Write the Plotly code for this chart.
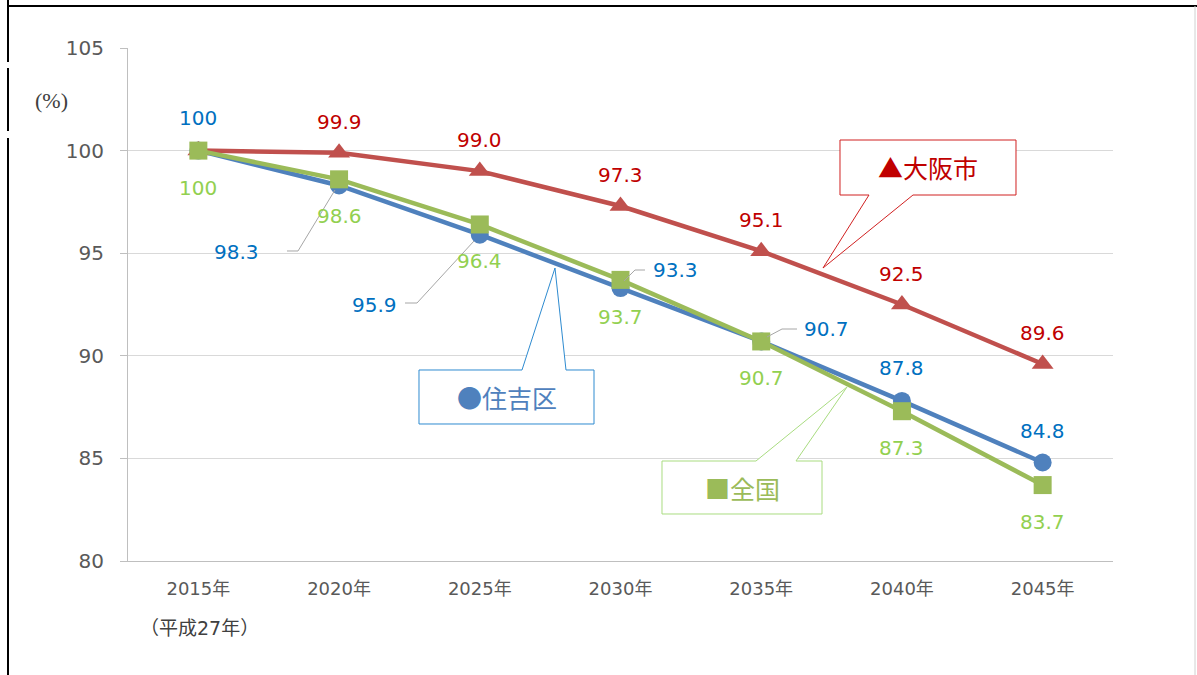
import plotly.graph_objects as go

# data
years = ["2015年", "2020年", "2025年", "2030年", "2035年", "2040年", "2045年"]
sumiyoshi = [100, 98.3, 95.9, 93.3, 90.7, 87.8, 84.8]
osaka = [100, 99.9, 99.0, 97.3, 95.1, 92.5, 89.6]
zenkoku = [100, 98.6, 96.4, 93.7, 90.7, 87.3, 83.7]

# label offsets (pixels) for the Sumiyoshi values, they are placed around the points
sumi_dx = [0, -103, -105, 55, 65, 0, 0]
sumi_dy = [33, -67, -70, 18, 12, 33, 32]

W, H = 1197, 675
L, R, T, B = 128, 84, 48, 114
FONT = "DejaVu Sans, Noto Sans CJK JP"
JFONT = "Noto Sans CJK JP"

BLUE, RED, GREEN = "#4f81bd", "#c0504d", "#9bbb59"
BLUE_T, RED_T, GREEN_T = "#0070c0", "#c00000", "#92d050"


def fmt(v):
    return "100" if v == 100 else f"{v:.1f}"


def P(px, py):
    # pixel position -> paper fraction (for the decorations only)
    return (px - L) / (W - L - R), (H - B - py) / (H - T - B)


def path(points, close=False):
    s = ""
    for i, (px, py) in enumerate(points):
        x, y = P(px, py)
        s += ("M" if i == 0 else "L") + f"{x:.5f},{y:.5f}"
    return s + ("Z" if close else "")


def note(px, py, text, font):
    x, y = P(px, py)
    return dict(x=x, y=y, xref="paper", yref="paper", text=text, showarrow=False,
                xanchor="center", yanchor="middle", font=font)


xs = list(range(len(years)))
fig = go.Figure()
fig.add_trace(go.Scatter(x=xs, y=sumiyoshi, mode="lines+markers", line=dict(color=BLUE, width=4.5),
                         marker=dict(symbol="circle", size=18, color=BLUE), name="住吉区"))
fig.add_trace(go.Scatter(x=xs, y=osaka, mode="lines+markers", line=dict(color=RED, width=4.5),
                         marker=dict(symbol="triangle-up", size=19, color=RED), name="大阪市"))
fig.add_trace(go.Scatter(x=xs, y=zenkoku, mode="lines+markers", line=dict(color=GREEN, width=4.5),
                         marker=dict(symbol="square", size=18, color=GREEN), name="全国"))

ann = []
lab_font = dict(family="DejaVu Sans", size=20)
for i, v in enumerate(sumiyoshi):
    ann.append(dict(x=i, y=v, xref="x", yref="y", text=fmt(v), showarrow=False,
                    xshift=sumi_dx[i], yshift=sumi_dy[i], font=dict(lab_font, color=BLUE_T)))
for i, v in enumerate(osaka):
    if i == 0:
        continue
    ann.append(dict(x=i, y=v, xref="x", yref="y", text=fmt(v), showarrow=False,
                    yshift=31, font=dict(lab_font, color=RED_T)))
for i, v in enumerate(zenkoku):
    ann.append(dict(x=i, y=v, xref="x", yref="y", text=fmt(v), showarrow=False,
                    yshift=-37, font=dict(lab_font, color=GREEN_T)))

# axis notes
ann.append(note(51, 100, "(%)", dict(family="Liberation Serif", size=22, color="#404040")))
ann.append(note(199, 628, "（平成27年）", dict(family=FONT, size=19, color="#404040")))

# callout texts
ann.append(note(928, 167, "▲大阪市", dict(family=JFONT, size=25, color=RED_T)))
ann.append(note(507, 397, "●住吉区", dict(family=JFONT, size=25, color=BLUE)))
ann.append(note(742, 488, "■全国", dict(family=JFONT, size=25, color=GREEN)))

shapes = []
# leader lines for the moved labels
for pts in ([(287, 251), (298, 251), (335, 190)],
            [(405, 303), (417, 303), (474, 241)],
            [(624, 281), (635, 270), (645, 270)],
            [(767, 337), (782, 329), (797, 329)]):
    shapes.append(dict(type="path", xref="paper", yref="paper", path=path(pts),
                       line=dict(color="#a6a6a6", width=1)))

# callout boxes
shapes.append(dict(type="path", xref="paper", yref="paper",
                   path=path([(840, 140), (1016, 140), (1016, 195), (913, 195), (823, 268), (869, 195), (840, 195)], True),
                   line=dict(color="#d02020", width=1), fillcolor="white", layer="above"))
shapes.append(dict(type="path", xref="paper", yref="paper",
                   path=path([(419, 370), (522, 370), (555, 268), (566, 370), (594, 370), (594, 424), (419, 424)], True),
                   line=dict(color="#2e8bd0", width=1), fillcolor="white", layer="above"))
shapes.append(dict(type="path", xref="paper", yref="paper",
                   path=path([(662, 461), (756, 461), (847, 387), (796, 461), (822, 461), (822, 514), (662, 514)], True),
                   line=dict(color="#a9dc80", width=1), fillcolor="white", layer="above"))

# outer frame
shapes.append(dict(type="line", xref="paper", yref="paper", x0=P(8, 6)[0], y0=P(8, 6)[1], x1=P(1197, 6)[0], y1=P(1197, 6)[1],
                   line=dict(color="black", width=2)))
for y0, y1 in ((0, 62), (68, 131), (138, 675)):
    shapes.append(dict(type="line", xref="paper", yref="paper", x0=P(8, y0)[0], y0=P(8, y0)[1], x1=P(8, y1)[0], y1=P(8, y1)[1],
                       line=dict(color="black", width=2)))
shapes.append(dict(type="line", xref="paper", yref="paper", x0=P(1195, 6)[0], y0=P(1195, 6)[1], x1=P(1195, 675)[0], y1=P(1195, 675)[1],
                   line=dict(color="#d0d0d0", width=1)))

fig.update_layout(
    width=W, height=H, margin=dict(l=L, r=R, t=T, b=B),
    paper_bgcolor="white", plot_bgcolor="white", showlegend=False,
    annotations=ann, shapes=shapes,
    font=dict(family=FONT, color="#595959"),
)
fig.update_xaxes(tickvals=xs, ticktext=years, range=[-0.5, 6.5], showgrid=False, zeroline=False,
                 showline=True, linecolor="#bfbfbf", linewidth=1, ticks="", ticklabelstandoff=11,
                 tickfont=dict(family=FONT, size=18, color="#595959"))
fig.update_yaxes(range=[80, 105], dtick=5, showgrid=True, gridcolor="#d9d9d9", zeroline=False,
                 showline=True, linecolor="#bfbfbf", linewidth=1, ticks="outside", ticklen=7,
                 tickcolor="#bfbfbf", ticklabelstandoff=12,
                 tickfont=dict(family=FONT, size=20, color="#595959"))

fig.write_html("out.html", config={"displayModeBar": False},
               post_script="document.body.style.margin='0';")
